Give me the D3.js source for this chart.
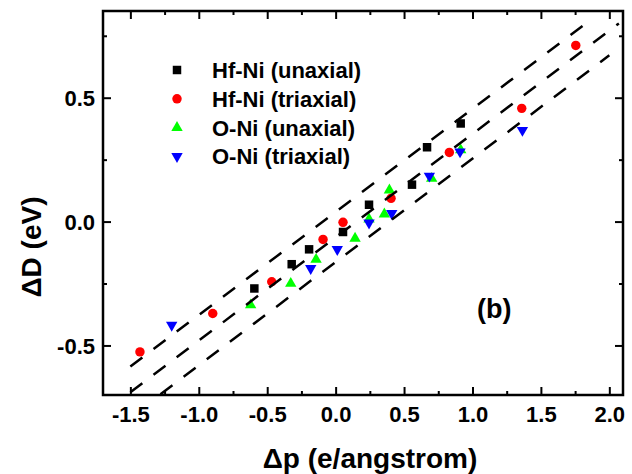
<!DOCTYPE html>
<html>
<head>
<meta charset="utf-8">
<script src="https://cdn.jsdelivr.net/npm/d3@7"></script>
<style>
body { margin: 0; background: #fff; }
text { font-family: "Liberation Sans", Arial, sans-serif; font-weight: bold; }
</style>
</head>
<body>
<div id="chart"></div>
<script>
// values
var hfUniX = [-0.594, -0.321, -0.194, 0.054, 0.244, 0.558, 0.668, 0.914];
var hfUniY = [-0.270, -0.172, -0.112, -0.042, 0.068, 0.149, 0.300, 0.396];
var hfTriX = [-1.430, -0.898, -0.467, -0.092, 0.054, 0.405, 0.831, 1.360, 1.755];
var hfTriY = [-0.526, -0.371, -0.243, -0.072, -0.003, 0.094, 0.279, 0.457, 0.711];
var oUniX = [-0.621, -0.328, -0.143, 0.142, 0.244, 0.356, 0.393, 0.702, 0.914];
var oUniY = [-0.337, -0.250, -0.153, -0.068, 0.010, 0.030, 0.127, 0.174, 0.289];
var oTriX = [-1.198, -0.182, 0.012, 0.244, 0.410, 0.685, 0.909, 1.365];
var oTriY = [-0.418, -0.189, -0.112, -0.005, 0.033, 0.184, 0.282, 0.369];

var seriesNames = ["Hf-Ni (unaxial)", "Hf-Ni (triaxial)", "O-Ni (unaxial)", "O-Ni (triaxial)"];
var seriesColors = ["#000000", "#ff0000", "#00ff00", "#0000ff"];

// dashed guide lines (start / end points)
var guideX0 = [-1.5, -1.5, -1.28];
var guideY0 = [-0.585, -0.689, -0.697];
var guideX1 = [1.83, 2.07, 2.0];
var guideY1 = [0.80, 0.80, 0.671];

var xMajor = [-1.5, -1.0, -0.5, 0.0, 0.5, 1.0, 1.5, 2.0];
var xMinor = [-1.25, -0.75, -0.25, 0.25, 0.75, 1.25, 1.75];
var yMajor = [-0.5, 0.0, 0.5];
var yMinor = [-0.25, 0.25, 0.75];

var margin = {top: 11, right: 9, bottom: 79, left: 103},
width = 632 - margin.left - margin.right,
height = 474 - margin.top - margin.bottom;

var svg = d3.select("#chart")
.append("svg")
.attr("width", 632)
.attr("height", 474)
.style("background", "#fff");

var g = svg.append("g")
.attr("transform", "translate(" + margin.left + "," + margin.top + ")");

var x = d3.scaleLinear().domain([-1.7, 2.1]).range([0, width]);
var y = d3.scaleLinear().domain([-0.7, 0.85]).range([height, 0]);

var fmt = function(d) { return d.toFixed(1); };

function styleAxis(sel) {
  sel.select(".domain").remove();
  sel.selectAll("line").attr("stroke-width", 2);
  sel.attr("font-size", 22);
}

// bottom axis
var xb = g.append("g").attr("transform", "translate(0," + height + ")")
.call(d3.axisBottom(x).tickValues(xMajor).tickSize(-8).tickFormat(fmt));
styleAxis(xb);
xb.selectAll("text").attr("y", 27).attr("dy", null);
g.append("g").attr("transform", "translate(0," + height + ")")
.call(d3.axisBottom(x).tickValues(xMinor).tickSize(-4).tickFormat(""))
.call(styleAxis);

// top axis
g.append("g").call(d3.axisTop(x).tickValues(xMajor).tickSize(-8).tickFormat("")).call(styleAxis);
g.append("g").call(d3.axisTop(x).tickValues(xMinor).tickSize(-4).tickFormat("")).call(styleAxis);

// left axis
var yl = g.append("g")
.call(d3.axisLeft(y).tickValues(yMajor).tickSize(-8).tickPadding(8).tickFormat(fmt));
styleAxis(yl);
yl.selectAll("text").attr("dy", "0.35em");
g.append("g").call(d3.axisLeft(y).tickValues(yMinor).tickSize(-4).tickFormat("")).call(styleAxis);

// right axis
g.append("g").attr("transform", "translate(" + width + ",0)")
.call(d3.axisRight(y).tickValues(yMajor).tickSize(-8).tickFormat("")).call(styleAxis);
g.append("g").attr("transform", "translate(" + width + ",0)")
.call(d3.axisRight(y).tickValues(yMinor).tickSize(-4).tickFormat("")).call(styleAxis);

// frame
g.append("rect")
.attr("width", width).attr("height", height)
.attr("fill", "none").attr("stroke", "#000").attr("stroke-width", 2.5);

// markers
var symSquare = d3.symbol().type(d3.symbolSquare).size(72);
var symCircle = d3.symbol().type(d3.symbolCircle).size(70);
var symTri = d3.symbol().type(d3.symbolTriangle).size(56);
var shapes = [symSquare, symCircle, symTri, symTri];
var rotations = [0, 0, 0, 180];

var seriesX = [hfUniX, hfTriX, oUniX, oTriX];
var seriesY = [hfUniY, hfTriY, oUniY, oTriY];

seriesX.forEach(function(xs, i) {
  g.selectAll(null)
  .data(xs.map(function(v, j) { return [v, seriesY[i][j]]; }))
  .enter()
  .append("path")
    .attr("d", shapes[i])
    .attr("fill", seriesColors[i])
    .attr("transform", function(d) {
      return "translate(" + x(d[0]) + "," + y(d[1]) + ") rotate(" + rotations[i] + ")";
    });
});

// dashed lines on top
svg.append("clipPath").attr("id", "plotclip")
.append("rect").attr("width", width).attr("height", height);

g.append("g").attr("clip-path", "url(#plotclip)")
.selectAll("line")
.data(guideX0)
.enter()
.append("line")
  .attr("x1", function(d, i) { return x(guideX0[i]); })
  .attr("y1", function(d, i) { return y(guideY0[i]); })
  .attr("x2", function(d, i) { return x(guideX1[i]); })
  .attr("y2", function(d, i) { return y(guideY1[i]); })
  .attr("stroke", "#000")
  .attr("stroke-width", 2.5)
  .attr("stroke-dasharray", "15,14");

// legend
var legend = svg.append("g").attr("transform", "translate(177,70)");
seriesNames.forEach(function(name, i) {
  var row = legend.append("g").attr("transform", "translate(0," + (i * 28.8) + ")");
  row.append("path")
  .attr("d", shapes[i])
  .attr("fill", seriesColors[i])
  .attr("transform", "rotate(" + rotations[i] + ")");
  row.append("text")
  .attr("x", 35).attr("y", 8)
  .attr("font-size", 22)
  .text(name);
});

// panel label
svg.append("text")
.attr("x", 477).attr("y", 318)
.attr("font-size", 27)
.text("(b)");

// axis titles
svg.append("text")
.attr("x", 370).attr("y", 468)
.attr("text-anchor", "middle")
.attr("font-size", 28)
.text("\u0394p (e/angstrom)");

svg.append("text")
.attr("transform", "translate(41,247) rotate(-90)")
.attr("text-anchor", "middle")
.attr("font-size", 28)
.text("\u0394D (eV)");
</script>
</body>
</html>
